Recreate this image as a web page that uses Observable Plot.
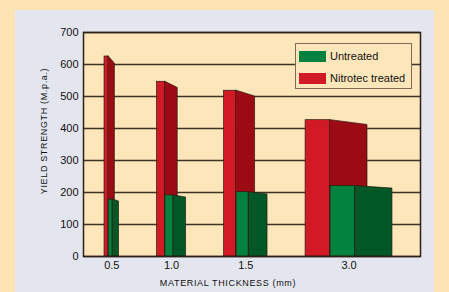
<!DOCTYPE html>
<html>
<head>
<meta charset="utf-8">
<script src="https://cdn.jsdelivr.net/npm/d3@7"></script>
<script src="https://cdn.jsdelivr.net/npm/@observablehq/plot@0.6"></script>
<style>
  html, body { margin: 0; padding: 0; background: #fee4b4; }
  #wrap { position: relative; width: 449px; height: 292px; overflow: hidden; background: #fee4b4; font-family: "Liberation Sans", Arial, sans-serif; }
  #panel { position: absolute; left: 15px; top: 10px; width: 419px; height: 282px; background: #e4e6ef; }
  #chart { position: absolute; left: 0; top: 0; }
  .ttl { position: absolute; font-size: 9px; letter-spacing: 0.65px; color: #111; white-space: nowrap; }
  #ylab { left: 44px; top: 131px; transform: translate(-50%, -50%) rotate(-90deg); }
  #xlab { left: 228px; top: 283px; transform: translate(-50%, -50%); }
  #legend { position: absolute; left: 295px; top: 43px; width: 117px; height: 46px; background: #fee6bb; border: 1px solid #7d6b55; box-sizing: border-box; }
  .lg { position: absolute; left: 3px; font-size: 11px; color: #111; white-space: nowrap; display: flex; align-items: center; }
  .sw { width: 27px; height: 11px; margin-right: 4px; }
</style>
</head>
<body>
<div id="wrap">
  <div id="panel"></div>
  <div id="chart"></div>
  <div class="ttl" id="ylab">YIELD STRENGTH (M.p.a.)</div>
  <div class="ttl" id="xlab">MATERIAL THICKNESS (mm)</div>
  <div id="legend"></div>
</div>
<script>
// ---- data ----
const thicknessLabels = ["0.5", "1.0", "1.5", "3.0"];
const thicknessMm = [0.5, 1.0, 1.5, 3.0];
const untreated = [178, 191, 201, 220];
const nitrotec = [625, 546, 518, 426];
const yTicks = [0, 100, 200, 300, 400, 500, 600, 700];
const seriesNames = ["Untreated", "Nitrotec treated"];

// ---- styles ----
const redFront = "#d21a24", redSide = "#9c0a13";
const greenFront = "#02813f", greenSide = "#015726";
const edge = "#2b1a12";

// ---- layout (x units) derived from thickness ----
const frontPerMm = 8.3, depthPerMm = 12.3, gap = 38, lead = 21, trail = 28, slope = 0.035;
let cursor = lead;
const groups = thicknessMm.map((t, i) => {
  const w = frontPerMm * t, d = depthPerMm * t;
  const s = cursor;
  cursor += 2 * w + d + gap;
  return {i, s, w, d, center: s + (2 * w + d) / 2, label: thicknessLabels[i], red: nitrotec[i], green: untreated[i]};
});
const total = cursor - gap + trail;

const redFronts = groups.map(g => ({x1: g.s, x2: g.s + g.w, v: g.red}));
const greenFronts = groups.map(g => ({x1: g.s + g.w, x2: g.s + 2 * g.w, v: g.green}));
const redSides = groups.flatMap(g => [
  {id: g.i, x: g.s + g.w, y: g.red},
  {id: g.i, x: g.s + g.w + g.d, y: g.red * (1 - slope)}
]);
const greenSides = groups.flatMap(g => [
  {id: g.i, x: g.s + 2 * g.w, y: g.green},
  {id: g.i, x: g.s + 2 * g.w + g.d, y: g.green * (1 - slope)}
]);

const chart = Plot.plot({
  width: 449,
  height: 292,
  marginLeft: 83,
  marginRight: 29,
  marginTop: 32,
  marginBottom: 36,
  style: {background: "transparent", fontFamily: "Liberation Sans, Arial, sans-serif", fontSize: "11px", color: "#111"},
  x: {domain: [0, total], axis: null},
  y: {domain: [0, 700], ticks: yTicks, tickSize: 0, tickPadding: 5, label: null},
  marks: [
    Plot.frame({fill: "#fee6bb", stroke: null}),
    Plot.ruleY(yTicks, {stroke: "#3d3226", strokeWidth: 1.3}),
    Plot.rect(redFronts, {x1: "x1", x2: "x2", y1: 0, y2: "v", fill: redFront, stroke: edge, strokeWidth: 0.7}),
    Plot.areaY(redSides, {x: "x", y1: 0, y2: "y", z: "id", fill: redSide, stroke: edge, strokeWidth: 0.7, curve: "linear"}),
    Plot.rect(greenFronts, {x1: "x1", x2: "x2", y1: 0, y2: "v", fill: greenFront, stroke: edge, strokeWidth: 0.7}),
    Plot.areaY(greenSides, {x: "x", y1: 0, y2: "y", z: "id", fill: greenSide, stroke: edge, strokeWidth: 0.7, curve: "linear"}),
    Plot.frame({stroke: "#2a2018", strokeWidth: 1.5}),
    Plot.text(groups, {x: "center", text: "label", frameAnchor: "bottom", dy: 12, fontSize: 11, fill: "#111"})
  ]
});
document.getElementById("chart").appendChild(chart);

// legend
const legend = document.getElementById("legend");
[[seriesNames[0], greenFront, 6], [seriesNames[1], redFront, 28]].forEach(([name, col, top]) => {
  const row = document.createElement("div");
  row.className = "lg";
  row.style.top = top + "px";
  row.innerHTML = `<span class="sw" style="background:${col}"></span><span>${name}</span>`;
  legend.appendChild(row);
});
</script>
</body>
</html>
